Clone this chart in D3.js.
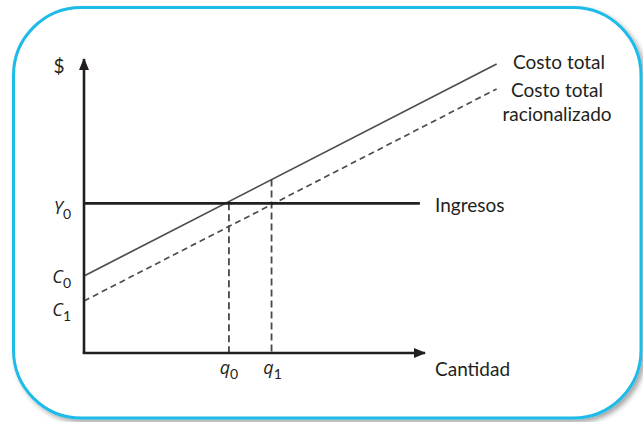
<!DOCTYPE html>
<html><head><meta charset="utf-8">
<script src="https://cdn.jsdelivr.net/npm/d3@7"></script>
<style>
html,body{margin:0;padding:0;background:#fff;}
text{font-family:Lato,"Open Sans",sans-serif;fill:#231f20;}
</style></head>
<body><svg id="c" width="643" height="422"></svg>
<script>
// ---- data (abstract units) ----
const axisMax = [10, 10];             // x, y extents of axes
const revenueLevel = 5.09;            // Y0
const fixedCosts = [2.62, 1.77];      // C0, C1
const costSlope = 0.596;              // per unit of quantity (both lines parallel)
const costEndQ = 12.1;                // where cost lines stop
const revenueEndQ = 9.85;
const breakEven = [4.25, 5.5];        // q0, q1
const costLabels = [["Costo total"], ["Costo total", "racionalizado"]];
const axisLabels = ["$", "Cantidad", "Ingresos"];

const svg = d3.select("#c");
const defs = svg.append("defs");
const f = defs.append("filter").attr("id","sh").attr("x","-10%").attr("y","-10%").attr("width","130%").attr("height","130%");
f.append("feDropShadow").attr("dx",3).attr("dy",3).attr("stdDeviation",2.5).attr("flood-color","#000").attr("flood-opacity",0.35);
defs.append("marker").attr("id","arr").attr("viewBox","0 0 12 10").attr("refX",11).attr("refY",5)
  .attr("markerWidth",12).attr("markerHeight",10).attr("markerUnits","userSpaceOnUse").attr("orient","auto")
  .append("path").attr("d","M0,0 L12,5 L0,10 z").attr("fill","#231f20");

// frame
function rr(x0,y0,x1,y1,r){
  return `M${x0+r},${y0} H${x1-r} A${r},${r} 0 0 1 ${x1},${y0+r} V${y1-r} A${r},${r} 0 0 1 ${x1-r},${y1} H${x0+r} A${r},${r} 0 0 1 ${x0},${y1-r} V${y0+r} A${r},${r} 0 0 1 ${x0+r},${y0} Z`;
}
svg.append("path").attr("d",rr(13.5,7.5,641,418,68)).attr("fill","#fff").attr("stroke","#1fbbe8").attr("stroke-width",3).attr("filter","url(#sh)");

const x = d3.scaleLinear().domain([0, axisMax[0]]).range([84, 425]);
const y = d3.scaleLinear().domain([0, axisMax[1]]).range([353, 59]);

const g = svg.append("g");
// cost lines
const costY = (c,q) => c + costSlope*q;
g.append("line").attr("x1",x(0)).attr("y1",y(fixedCosts[0])).attr("x2",x(costEndQ)).attr("y2",y(costY(fixedCosts[0],costEndQ)))
  .attr("stroke","#4d4d4f").attr("stroke-width",1.7);
g.append("line").attr("x1",x(0)).attr("y1",y(fixedCosts[1])).attr("x2",x(costEndQ)).attr("y2",y(costY(fixedCosts[1],costEndQ)))
  .attr("stroke","#4d4d4f").attr("stroke-width",1.7).attr("stroke-dasharray","6,4");
// vertical dashed lines
g.append("line").attr("x1",x(breakEven[0])).attr("x2",x(breakEven[0])).attr("y1",y(revenueLevel)).attr("y2",y(0))
  .attr("stroke","#48484a").attr("stroke-width",1.8).attr("stroke-dasharray","7,4");
g.append("line").attr("x1",x(breakEven[1])).attr("x2",x(breakEven[1])).attr("y1",y(costY(fixedCosts[0],breakEven[1]))).attr("y2",y(0))
  .attr("stroke","#48484a").attr("stroke-width",1.8).attr("stroke-dasharray","7,4");
// revenue
g.append("line").attr("x1",x(0)).attr("x2",x(revenueEndQ)).attr("y1",y(revenueLevel)).attr("y2",y(revenueLevel))
  .attr("stroke","#231f20").attr("stroke-width",2.6);
// axes
g.append("path").attr("d",`M${x(0)},${y(0)} V${y(axisMax[1])}`).attr("stroke","#231f20").attr("stroke-width",2.6).attr("fill","none").attr("marker-end","url(#arr)");
g.append("path").attr("d",`M${x(0)-1.3},${y(0)} H${x(axisMax[0])}`).attr("stroke","#231f20").attr("stroke-width",2.6).attr("fill","none").attr("marker-end","url(#arr)");

// labels
const fs = 19;
svg.append("text").attr("x",59).attr("y",73).attr("text-anchor","middle").attr("font-size",fs).text(axisLabels[0]);
svg.append("text").attr("x",435).attr("y",376).attr("font-size",fs).text(axisLabels[1]);
svg.append("text").attr("x",435).attr("y",212).attr("font-size",fs).text(axisLabels[2]);
costLabels.forEach((lines,i)=>{
  const t = svg.append("text").attr("text-anchor","middle").attr("font-size",fs);
  lines.forEach((s,j)=>{
    t.append("tspan").attr("x", i===0?559:557).attr("y", (i===0?69:97) + j*24).text(s);
  });
});
function subLabel(xp, yp, letter, sub, anchor){
  const t = svg.append("text").attr("x",xp).attr("y",yp).attr("font-size",fs).attr("text-anchor",anchor);
  t.append("tspan").attr("font-style","italic").attr("font-family","'Open Sans',sans-serif").attr("font-size",18).text(letter);
  t.append("tspan").attr("font-size",14).attr("dy",5).text(sub);
}
subLabel(71, y(revenueLevel)+11, "Y", "0", "end");
subLabel(71, y(fixedCosts[0])+7, "C", "0", "end");
subLabel(71, y(fixedCosts[1])+15, "C", "1", "end");
subLabel(x(breakEven[0]), 374, "q", "0", "middle");
subLabel(x(breakEven[1])+1, 374, "q", "1", "middle");
</script></body></html>
